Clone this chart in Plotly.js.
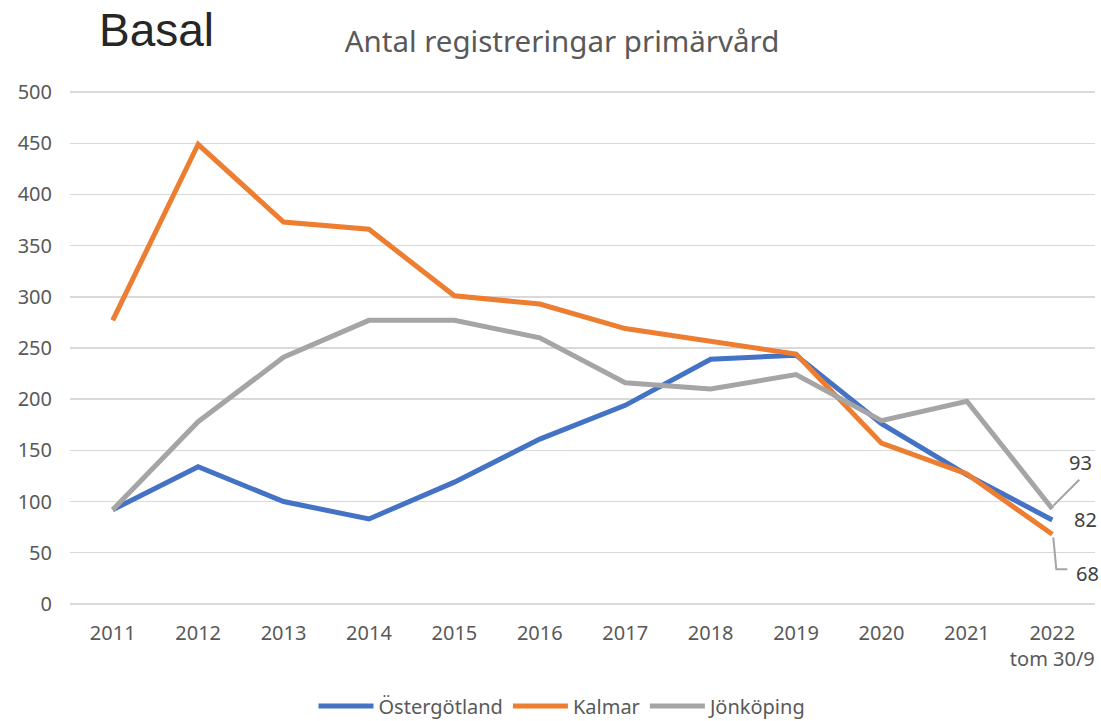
<!DOCTYPE html>
<html>
<head>
<meta charset="utf-8">
<script src="https://cdn.plot.ly/plotly-3.0.1.min.js"></script>
<style>html,body{margin:0;padding:0;background:#fff;}#chart{width:1101px;height:721px;}</style>
</head>
<body>
<div id="chart"></div>
<script>
var years = ['2011','2012','2013','2014','2015','2016','2017','2018','2019','2020','2021','2022'];
var tickLabels = ['2011','2012','2013','2014','2015','2016','2017','2018','2019','2020','2021','2022<br>tom 30/9'];
var ostergotland = [92, 134, 100, 83, 119, 161, 194, 239, 243, 176, 126, 82];
var kalmar = [277, 449, 373, 366, 301, 293, 269, 256, 244, 157, 127, 68];
var jonkoping = [92, 178, 241, 277, 277, 260, 216, 210, 224, 179, 198, 93];
var seriesNames = ['Östergötland', 'Kalmar', 'Jönköping'];
var colors = ['#4472C4', '#ED7D31', '#A5A5A5'];
var yTicks = [0, 50, 100, 150, 200, 250, 300, 350, 400, 450, 500];

var font = 'Noto Sans, Open Sans, sans-serif';
var allSeries = [ostergotland, kalmar, jonkoping];
var traces = allSeries.map(function(vals, i){
  return {type:'scatter', mode:'lines', x: years, y: vals, name: seriesNames[i],
    line:{color: colors[i], width: 5}, hoverinfo:'skip'};
});

var last = years.length - 1;
var layout = {
  width: 1101, height: 721,
  margin: {l: 70, r: 6, t: 89, b: 114.4},
  paper_bgcolor: '#ffffff', plot_bgcolor: '#ffffff',
  title: {text: 'Antal registreringar primärvård', font:{family: font, size: 29.5, color:'#595959'},
          x: 562/1101, xanchor:'center', xref:'container', y: 1 - 42/721, yanchor:'middle', yref:'container'},
  xaxis: {type:'category', categoryarray: years, range:[-0.5, years.length - 0.5], tickvals: years, ticktext: tickLabels,
          showgrid:false, zeroline:false, showline:false, ticks:'', ticklabelstandoff: 12,
          tickfont:{family: font, size: 20, color:'#595959'}},
  yaxis: {range:[-3, 503], tickvals: yTicks, showgrid:true, gridcolor:'#d9d9d9', gridwidth:1.5,
          zeroline:false, showline:false, ticks:'', ticklabelstandoff: 17,
          tickfont:{family: font, size: 20, color:'#595959'}},
  showlegend: true,
  legend: {orientation:'h', x: 563/1101, xanchor:'center', xref:'container', y: (721-706)/721, yanchor:'middle', yref:'container',
           font:{family: font, size: 20, color:'#595959'}, itemwidth: 55, tracegroupgap: 0},
  annotations: [
    {xref:'paper', yref:'paper', x: (97-70)/1025, xanchor:'left', y: 1 + (92-34)/511.5, yanchor:'middle',
     text:'Basal', showarrow:false, font:{family:'Liberation Sans, Arial, sans-serif', size: 46, color:'#262626'}},
    {x: last, y: jonkoping[last], text: String(jonkoping[last]), showarrow:false,
     xshift: 28, yshift: 46, font:{family: font, size: 20, color:'#404040'}},
    {x: last, y: ostergotland[last], text: String(ostergotland[last]), showarrow:false,
     xshift: 33, yshift: 0, font:{family: font, size: 20, color:'#404040'}},
    {x: last, y: kalmar[last], text: String(kalmar[last]), showarrow:false,
     xshift: 35, yshift: -39, font:{family: font, size: 20, color:'#404040'}}
  ],
  shapes: [
    {type:'path', xref:'x', yref:'y', xsizemode:'pixel', ysizemode:'pixel', xanchor: last, yanchor: jonkoping[last],
     path:'M1,3 L27,29', line:{color:'#A5A5A5', width:2}},
    {type:'path', xref:'x', yref:'y', xsizemode:'pixel', ysizemode:'pixel', xanchor: last, yanchor: kalmar[last],
     path:'M1,-3 L4,-35 L15,-35', line:{color:'#A5A5A5', width:2}}
  ]
};
Plotly.newPlot('chart', traces, layout, {displayModeBar:false, staticPlot:true});
</script>
</body>
</html>
